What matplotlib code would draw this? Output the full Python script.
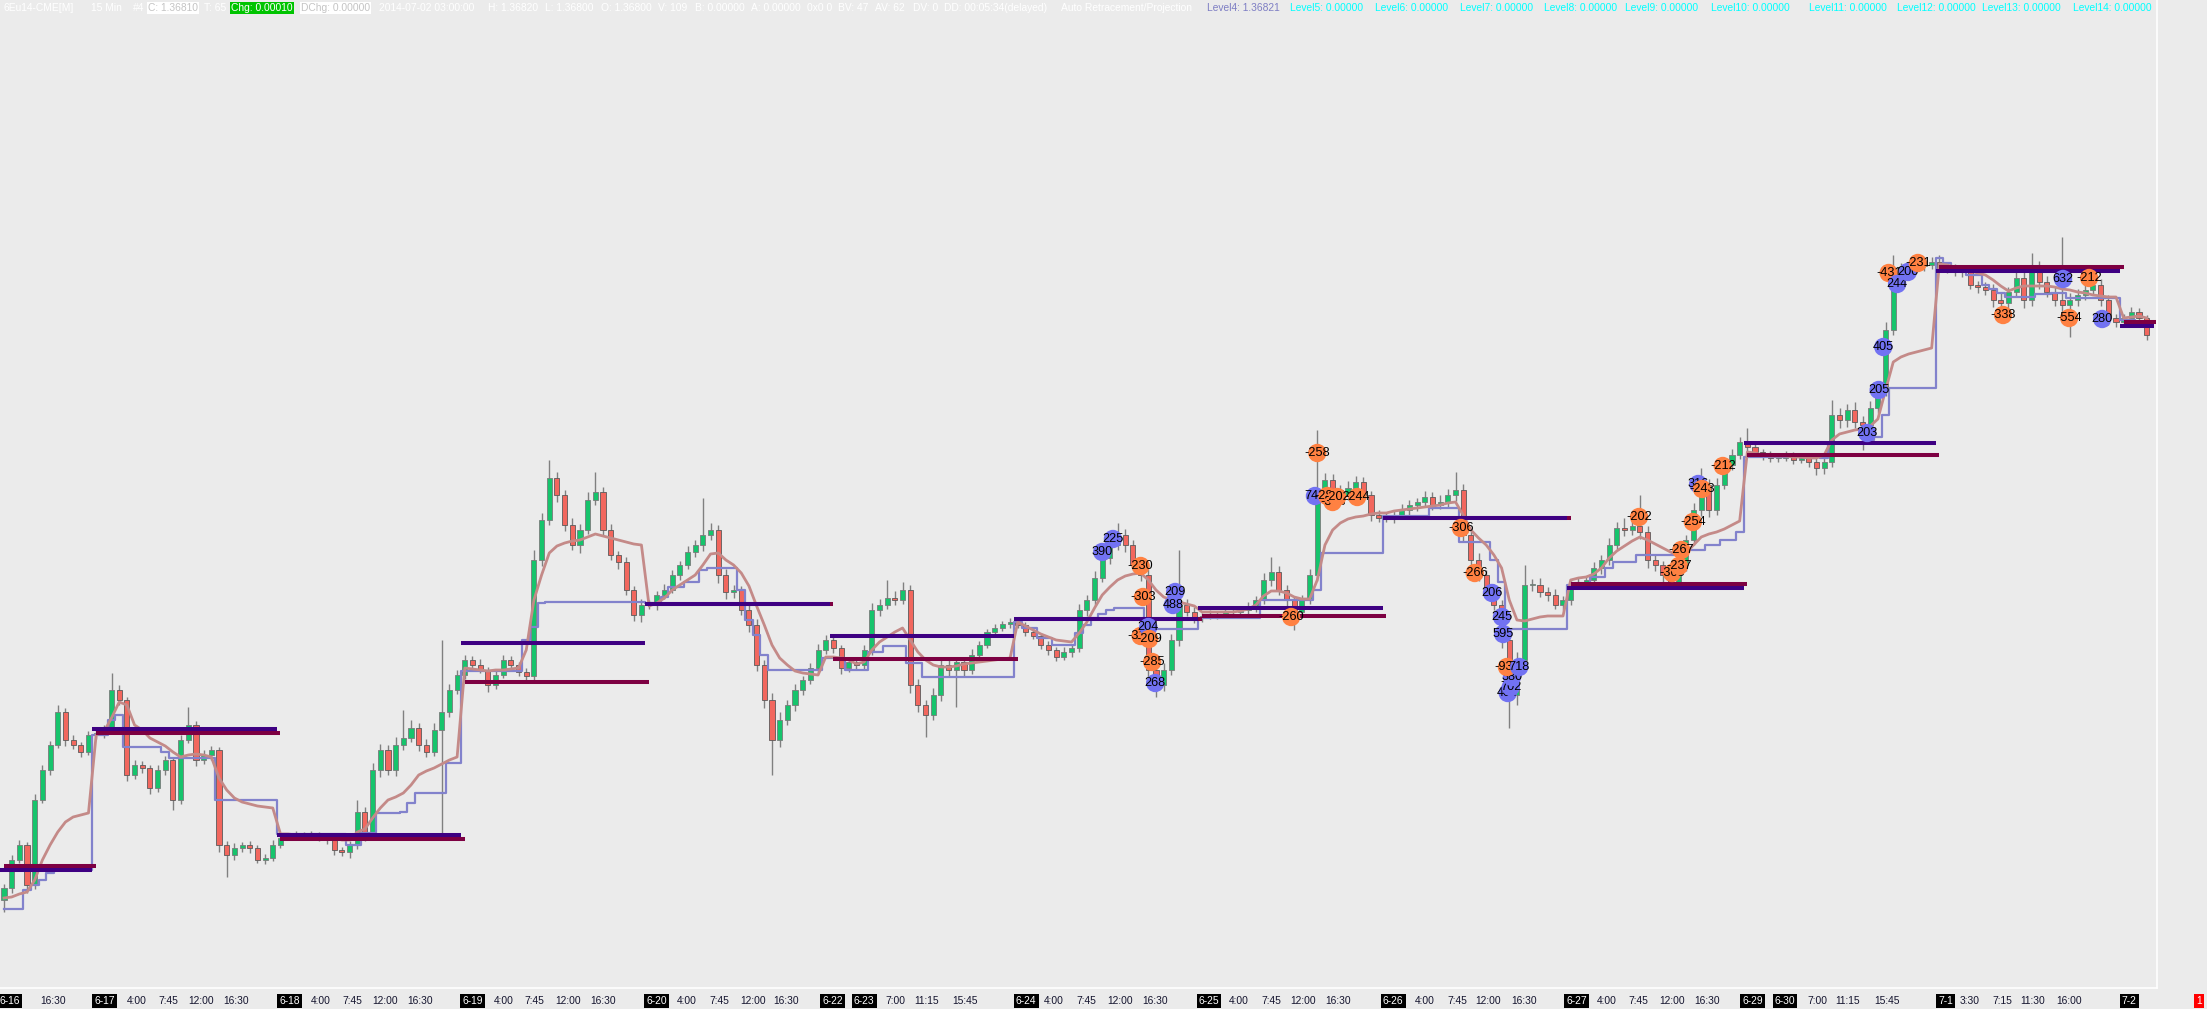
import matplotlib
matplotlib.use("Agg")
import matplotlib.pyplot as plt
from matplotlib import font_manager
from matplotlib.transforms import blended_transform_factory
import numpy as np

# ---------------- data (prices in pipettes, 1.36810 -> 136810) ----------------
open_first = 135680
close = [
    135704, 135760, 135790, 135710, 135880, 135940, 135990, 136056, 136000, 135990, 135976, 136010,  # 6-16
    136014, 136024, 136100, 136080, 135930, 135950, 135944, 135904, 135940, 135960, 135880, 136000,
    136030, 135960, 135970, 135980, 135790, 135770, 135784, 135790, 135784, 135760, 135764, 135790,  # 6-17
    135804, 135810, 135812, 135808, 135812, 135804, 135800, 135780, 135776, 135790, 135856, 135810,
    135940, 135980, 135940, 135990, 136004, 136024, 135990, 135976, 136020, 136056, 136100, 136130,  # 6-18
    136160, 136150, 136140, 136110, 136130, 136160, 136150, 136136, 136128, 136360, 136440, 136524,
    136490, 136430, 136390, 136420, 136480, 136496, 136420, 136370, 136356, 136300, 136250, 136270,  # 6-19
    136270, 136290, 136300, 136330, 136350, 136376, 136390, 136410, 136420, 136330, 136296, 136300,
    136260, 136230, 136150, 136080, 136000, 136040, 136070, 136100, 136120, 136144, 136180,          # 6-20
    136200, 136184, 136144, 136156,                                                                  # 6-22
    136150, 136180, 136260, 136270, 136284, 136280, 136300, 136110, 136070, 136050, 136090, 136150,
    136140, 136156, 136140, 136170, 136190, 136216, 136224, 136232, 136236,                          # 6-23
    136230, 136216, 136208, 136190, 136180, 136166, 136176, 136184, 136260, 136280, 136324, 136364,
    136390, 136410, 136390, 136350, 136330, 136140, 136110, 136140, 136200, 136270, 136256, 136244,  # 6-24
    136248, 136252, 136250, 136256, 136256, 136260, 136266, 136280, 136320, 136336, 136300, 136280,
    136256, 136280, 136330, 136500, 136520, 136500, 136490, 136504, 136516, 136490, 136450, 136444,  # 6-25
    136444, 136450, 136460, 136470, 136476, 136486, 136470, 136476, 136490, 136500, 136410, 136360,
    136330, 136300, 136270, 136200, 136090, 136160, 136310, 136310, 136296, 136290, 136270, 136280,  # 6-26
    136310, 136316, 136320, 136344, 136360, 136390, 136424, 136420, 136428, 136416, 136360, 136350,
    136330, 136316, 136350, 136400, 136460, 136510, 136460, 136510, 136550, 136570, 136596,          # 6-27
    136586, 136576, 136570, 136564,                                                                  # 6-29
    136564, 136570, 136560, 136564, 136556, 136544, 136556, 136650, 136640, 136660, 136636, 136630,
    136664, 136700, 136820, 136944, 136936, 136944, 136948, 136950, 136956,                          # 6-30
    136944, 136944, 136940, 136936, 136910, 136906, 136900, 136880, 136874, 136896, 136924, 136880,
    136944, 136916, 136896, 136880, 136870, 136880, 136890, 136900, 136910, 136880, 136844, 136836,  # 7-1
    136844, 136856, 136844, 136810,                                                                  # 7-2
]
wick_up = [
    8, 10, 10, 6, 12, 10, 8, 14, 8, 10, 6, 8,
    8, 6, 34, 10, 6, 10, 8, 6, 10, 8, 6, 10, 36, 8, 10, 8, 6, 8, 10, 6, 8, 6, 8, 10,
    6, 4, 6, 4, 6, 4, 6, 4, 6, 8, 24, 10, 14, 12, 10, 16, 56, 16, 10, 12, 14, 144, 12, 10,
    10, 8, 12, 6, 8, 10, 8, 6, 8, 20, 14, 36, 12, 10, 14, 12, 16, 40, 10, 12, 8, 10, 8, 12,
    10, 8, 12, 10, 8, 12, 10, 74, 14, 10, 12, 10, 8, 10, 12, 10, 14, 16, 10, 12, 8, 10, 12,
    10, 8, 6, 10,
    8, 10, 14, 12, 36, 14, 16, 10, 12, 10, 14, 12, 10, 8, 10, 12, 8, 6, 8, 6, 8,
    8, 6, 8, 6, 8, 6, 10, 8, 12, 10, 14, 12, 10, 24, 12, 10, 8, 12, 10, 14, 12, 110, 12, 10,
    6, 8, 6, 8, 6, 8, 10, 8, 14, 30, 12, 10, 8, 10, 12, 120, 14, 12, 10, 14, 12, 10, 8, 10,
    10, 8, 12, 10, 8, 12, 10, 14, 12, 36, 12, 10, 14, 10, 12, 10, 14, 16, 40, 12, 14, 10, 12, 8,
    8, 10, 8, 12, 10, 14, 12, 20, 16, 62, 12, 10, 8, 10, 12, 10, 14, 34, 12, 14, 10, 12, 10,
    28, 8, 6, 8,
    6, 8, 6, 8, 6, 8, 10, 30, 14, 12, 16, 12, 14, 12, 16, 26, 10, 8, 10, 8, 10,
    14, 10, 8, 10, 12, 8, 10, 12, 14, 10, 16, 12, 30, 14, 12, 10, 126, 14, 12, 10, 16, 12, 10, 8,
    8, 10, 8, 6,
]
wick_dn = [
    24, 10, 6, 16, 8, 6, 10, 6, 12, 8, 10, 6,
    8, 10, 6, 10, 12, 8, 10, 12, 8, 10, 20, 8, 6, 12, 8, 10, 14, 44, 10, 8, 10, 6, 8, 6,
    6, 4, 6, 4, 6, 6, 8, 10, 8, 12, 8, 12, 10, 14, 10, 12, 10, 8, 12, 10, 8, 220, 10, 8,
    8, 10, 6, 14, 8, 6, 10, 8, 10, 8, 12, 10, 14, 12, 10, 16, 8, 10, 12, 10, 14, 10, 12, 14,
    8, 10, 8, 6, 10, 8, 10, 12, 10, 16, 14, 12, 10, 14, 12, 16, 70, 14, 10, 12, 10, 8, 10,
    8, 10, 12, 8,
    10, 8, 10, 12, 8, 10, 8, 16, 14, 44, 10, 12, 14, 74, 12, 8, 10, 6, 8, 6, 8,
    6, 8, 6, 8, 10, 8, 6, 10, 8, 12, 10, 8, 12, 10, 14, 10, 12, 16, 24, 12, 10, 12, 8, 10,
    8, 6, 8, 6, 8, 6, 8, 10, 8, 12, 10, 14, 36, 10, 8, 12, 10, 12, 14, 10, 12, 10, 12, 8,
    8, 10, 8, 10, 12, 8, 10, 8, 10, 12, 14, 16, 12, 14, 10, 16, 66, 20, 14, 12, 10, 12, 8, 10,
    10, 8, 10, 8, 12, 10, 8, 12, 10, 14, 16, 12, 14, 10, 8, 12, 10, 12, 14, 10, 8, 10, 8,
    8, 6, 10, 8,
    8, 6, 8, 6, 10, 14, 12, 10, 16, 14, 12, 50, 14, 10, 12, 10, 12, 10, 8, 10, 8,
    8, 10, 12, 10, 8, 12, 10, 14, 14, 12, 10, 16, 12, 14, 10, 12, 14, 64, 12, 10, 8, 12, 14, 10,
    10, 8, 12, 10,
]
vwap = [
    135684, 135686, 135692, 135696, 135720, 135760, 135790, 135816, 135836, 135846, 135850, 135854,
    136010, 136016, 136044, 136076, 136070, 136030, 136020, 136004, 135996, 135988, 135976, 135966,
    135970, 135972, 135970, 135966, 135924, 135900, 135884, 135876, 135872, 135868, 135866, 135864,
    135812, 135812, 135810, 135810, 135810, 135808, 135806, 135804, 135800, 135800, 135816, 135822,
    135844, 135864, 135880, 135886, 135894, 135910, 135930, 135938, 135944, 135952, 135960, 135966,
    136144, 136142, 136140, 136138, 136140, 136140, 136142, 136144, 136180, 136280, 136330, 136374,
    136388, 136394, 136398, 136400, 136406, 136412, 136408, 136404, 136400, 136396, 136392, 136390,
    136268, 136274, 136284, 136300, 136310, 136320, 136330, 136350, 136372, 136374, 136360, 136350,
    136334, 136308, 136268, 136230, 136190, 136164, 136150, 136138, 136134, 136132, 136130,
    136166, 136166, 136164, 136160,
    136152, 136156, 136180, 136196, 136206, 136216, 136224, 136200, 136176, 136160, 136150, 136146,
    136146, 136148, 136152, 136154, 136156, 136158, 136160, 136162, 136164,
    136236, 136228, 136220, 136212, 136206, 136200, 136198, 136196, 136214, 136236, 136264, 136290,
    136306, 136320, 136328, 136332, 136334, 136320, 136300, 136286, 136280, 136276, 136272, 136268,
    136256, 136256, 136256, 136256, 136256, 136258, 136262, 136270, 136288, 136298, 136298, 136294,
    136286, 136282, 136282, 136320, 136390, 136420, 136434, 136442, 136446, 136448, 136452, 136454,
    136454, 136458, 136460, 136462, 136464, 136466, 136468, 136470, 136474, 136476, 136450, 136420,
    136404, 136390, 136370, 136344, 136280, 136240, 136238, 136242, 136246, 136248, 136248, 136248,
    136320, 136324, 136326, 136332, 136344, 136364, 136378, 136388, 136398, 136406, 136400, 136392,
    136384, 136376, 136368, 136374, 136390, 136406, 136412, 136416, 136422, 136430, 136438,
    136576, 136574, 136570, 136568,
    136568, 136568, 136566, 136566, 136564, 136564, 136570, 136600, 136612, 136616, 136620, 136622,
    136628, 136642, 136700, 136756, 136766, 136772, 136776, 136780, 136784,
    136952, 136950, 136946, 136942, 136938, 136934, 136930, 136920, 136908, 136898, 136904, 136908,
    136908, 136908, 136908, 136906, 136902, 136900, 136896, 136894, 136890, 136888, 136886, 136886,
    136844, 136846, 136848, 136844,
]
poc = [
    135662, 135662, 135662, 135700, 135710, 135720, 135734, 135740, 135740, 135740, 135740, 135740,
    136010, 136010, 136040, 136050, 135986, 135986, 135986, 135986, 135986, 135976, 135964, 135964,
    135964, 135964, 135964, 135964, 135880, 135880, 135880, 135880, 135880, 135880, 135880, 135880,
    135812, 135812, 135812, 135812, 135812, 135812, 135812, 135812, 135812, 135790, 135790, 135814,
    135814, 135854, 135854, 135854, 135856, 135874, 135894, 135894, 135894, 135894, 135954, 135954,
    136138, 136138, 136138, 136138, 136138, 136138, 136138, 136138, 136200, 136226, 136274, 136276,
    136276, 136276, 136276, 136276, 136276, 136276, 136276, 136276, 136276, 136276, 136276, 136276,
    136274, 136274, 136286, 136306, 136306, 136316, 136316, 136340, 136344, 136344, 136344, 136344,
    136300, 136240, 136210, 136170, 136140, 136140, 136140, 136140, 136140, 136140, 136140,
    136164, 136164, 136164, 136140,
    136140, 136140, 136176, 136176, 136188, 136188, 136188, 136154, 136154, 136126, 136126, 136126,
    136126, 136126, 136126, 136126, 136126, 136126, 136126, 136126, 136126,
    136236, 136224, 136224, 136204, 136204, 136190, 136190, 136190, 136214, 136230, 136244, 136252,
    136260, 136264, 136264, 136264, 136264, 136240, 136222, 136222, 136222, 136222, 136222, 136222,
    136244, 136244, 136244, 136244, 136244, 136244, 136244, 136244, 136280, 136280, 136280, 136280,
    136280, 136280, 136280, 136300, 136374, 136374, 136374, 136374, 136374, 136374, 136374, 136374,
    136448, 136448, 136448, 136448, 136448, 136448, 136464, 136464, 136464, 136464, 136396, 136396,
    136396, 136396, 136360, 136316, 136222, 136222, 136222, 136222, 136222, 136222, 136222, 136222,
    136310, 136310, 136310, 136326, 136326, 136344, 136356, 136356, 136356, 136370, 136370, 136370,
    136370, 136370, 136370, 136380, 136380, 136380, 136390, 136390, 136400, 136400, 136416,
    136566, 136566, 136566, 136566,
    136566, 136566, 136566, 136566, 136566, 136566, 136564, 136594, 136594, 136594, 136594, 136594,
    136600, 136606, 136650, 136704, 136704, 136704, 136704, 136704, 136704,
    136964, 136954, 136944, 136944, 136930, 136930, 136910, 136902, 136894, 136886, 136886, 136886,
    136886, 136892, 136892, 136894, 136894, 136884, 136884, 136884, 136884, 136884, 136884, 136884,
    136840, 136840, 136836, 136836,
]

# daily reference levels (session boundaries in bar units)
seg_start = [-0.5, 11.5, 35.5, 59.5, 83.5, 107.5, 131.5, 155.5, 179.5, 203.5, 226.5, 251.5, 275.5]
seg_end = [11.5, 35.5, 59.5, 83.5, 107.5, 131.5, 155.5, 179.5, 203.5, 226.5, 251.5, 275.5, 280.0]
level_hi = [135740, 136022, 135810, 136194, 136272, 136208, 136242, 136264, 136444, 136304, 136594, 136938, 136828]
level_lo = [135748, 136014, 135802, 136116, 136272, 136162, 136242, 136248, 136444, 136312, 136570, 136946, 136836]

# delta markers: position (bar, price), value
mk_x = [171.0, 170.7, 172.3, 173.0, 173.6, 176.2, 144.4, 143.0, 148.0, 148.3, 152.5, 152.2, 148.0, 149.0,
        149.1, 149.5, 149.9, 167.6, 189.7, 191.5, 193.75, 195.05, 195.2, 195.8, 196.2, 196.35, 195.7, 197.3,
        212.9, 220.6, 221.1, 223.8, 219.9, 218.4, 217.2, 218.1, 242.6, 244.1, 244.7, 245.4, 246.5, 247.9,
        249.2, 260.3, 268.1, 268.9, 271.5, 273.2]
mk_y = [136574, 136488, 136488, 136476, 136486, 136486, 136402, 136376, 136348, 136286, 136296, 136270, 136208, 136226,
        136202, 136156, 136114, 136246, 136424, 136334, 136294, 136246, 136212, 136094, 136106, 136126, 136146, 136146,
        136446, 136512, 136502, 136548, 136436, 136380, 136334, 136348, 136614, 136700, 136786, 136934, 136912, 136936,
        136954, 136850, 136922, 136844, 136924, 136842]
mk_txt = ['-258', '742', '-282', '-303', '-202', '-244', '225', '390', '-230', '-303', '209', '488', '-317', '204',
          '-209', '-285', '268', '-260', '-306', '-266', '206', '245', '595', '404', '702', '380', '-937', '718',
          '-202', '316', '-243', '-212', '-254', '-267', '-363', '-237', '203', '205', '405', '-431', '244', '200',
          '-231', '-338', '632', '-554', '-212', '280']

# x-axis labels (bar units)
date_pos = [0.8, 13.1, 37.2, 61.0, 85.0, 107.9, 112.0, 133.1, 156.9, 180.9, 204.8, 227.7, 231.9, 252.8, 276.7]
date_txt = ['6-16', '6-17', '6-18', '6-19', '6-20', '6-22', '6-23', '6-24', '6-25', '6-26', '6-27', '6-29',
            '6-30', '7-1', '7-2']
time_pos = [6.4, 17.3, 21.4, 25.7, 30.2, 41.3, 45.3, 49.6, 54.2, 65.1, 69.1, 73.4, 78.0, 88.9, 93.2, 97.5, 101.8,
            116.1, 120.1, 125.1, 136.7, 140.9, 145.3, 149.9, 160.8, 165.0, 169.1, 173.7, 185.0, 189.2, 193.2,
            197.9, 208.7, 212.8, 217.2, 221.7, 236.1, 240.1, 245.2, 256.0, 260.2, 264.2, 268.9]
time_txt = ['16:30', '4:00', '7:45', '12:00', '16:30', '4:00', '7:45', '12:00', '16:30', '4:00', '7:45', '12:00',
            '16:30', '4:00', '7:45', '12:00', '16:30', '7:00', '11:15', '15:45', '4:00', '7:45', '12:00', '16:30',
            '4:00', '7:45', '12:00', '16:30', '4:00', '7:45', '12:00', '16:30', '4:00', '7:45', '12:00', '16:30',
            '7:00', '11:15', '15:45', '3:30', '7:15', '11:30', '16:00']

level_names = ['Level4: 1.36821', 'Level5: 0.00000', 'Level6: 0.00000', 'Level7: 0.00000', 'Level8: 0.00000',
               'Level9: 0.00000', 'Level10: 0.00000', 'Level11: 0.00000', 'Level12: 0.00000',
               'Level13: 0.00000', 'Level14: 0.00000']

# ---------------- styling ----------------
BG = '#EBEBEB'
W, H = 2207, 1009
avail = {f.name for f in font_manager.fontManager.ttflist}
if 'Liberation Sans Narrow' in avail:
    HF, HS = ['Liberation Sans Narrow', 'DejaVu Sans'], 9.0
else:
    HF, HS = ['Liberation Sans', 'DejaVu Sans'], 7.4

fig = plt.figure(figsize=(W / 100, H / 100), dpi=100, facecolor=BG)
ax = fig.add_axes([0, 21 / H, 2157 / W, 988 / H])
ax.set_facecolor(BG)

n = min(len(close), len(wick_up), len(wick_dn), len(vwap), len(poc))
x = np.arange(n)
c = np.array(close[:n], float)
o = np.concatenate([[open_first], c[:-1]])
hi = np.maximum(o, c) + np.array(wick_up[:n])
lo = np.minimum(o, c) - np.array(wick_dn[:n])
up = c >= o

ax.vlines(x, lo, hi, color='#808080', lw=1.0, zorder=2)
body_h = np.maximum(np.abs(c - o), 2)
ax.bar(x[up], body_h[up], bottom=np.minimum(o, c)[up], width=0.66, color='#16C46C',
       edgecolor='#7A7A7A', linewidth=0.6, zorder=3)
ax.bar(x[~up], body_h[~up], bottom=np.minimum(o, c)[~up], width=0.66, color='#F2675E',
       edgecolor='#5A5A5A', linewidth=0.6, zorder=3)

ax.step(x, poc[:n], where='mid', color='#8282CC', lw=1.6, zorder=4)
ax.plot(x, vwap[:n], color='#C48A88', lw=2.0, zorder=5, solid_joinstyle='round')

for s, e, a, b in zip(seg_start, seg_end, level_hi, level_lo):
    ax.hlines(b, s + 0.5, min(e + 0.5, 280.2), color='#7D0042', lw=2.9, zorder=6)
    ax.hlines(a, s, e, color='#3E0082', lw=2.9, zorder=7)

for i, (mx, my, t) in enumerate(zip(mk_x, mk_y, mk_txt)):
    col = '#FF8142' if t.startswith('-') else '#7272F2'
    ax.scatter([mx], [my], s=175, color=col, edgecolors='none', zorder=10 + 2 * i)
    ax.text(mx, my, t, ha='center', va='center', fontsize=9.2, color='black',
            family=['Liberation Sans', 'DejaVu Sans'], zorder=11 + 2 * i)

ax.set_xlim(-0.52, 280.34)
ax.set_ylim(135504, 137480)
ax.set_xticks([])
ax.set_yticks([])
for side in ['left', 'top']:
    ax.spines[side].set_visible(False)
for side in ['right', 'bottom']:
    ax.spines[side].set_color('white')
    ax.spines[side].set_linewidth(1.2)

# ---------------- x labels ----------------
tr = blended_transform_factory(ax.transData, fig.transFigure)
ly = 1 - 1001 / H
for p, t in zip(time_pos, time_txt):
    ax.text(p, ly, t, transform=tr, ha='center', va='center', fontsize=HS, color='#14142E', family=HF,
            clip_on=False)
for p, t in zip(date_pos, date_txt):
    ax.text(p, ly, t, transform=tr, ha='center', va='center', fontsize=HS, color='white', family=HF,
            clip_on=False, bbox=dict(boxstyle='square,pad=0.2', fc='black', ec='none'))
fig.text(2199 / W, ly, '1', ha='center', va='center', fontsize=HS, color='white', family=HF,
         bbox=dict(boxstyle='square,pad=0.22', fc='#FF0000', ec='none'))

# ---------------- header ----------------
hy = 1 - 8 / H


def htext(px, s, color='white', box=None):
    kw = dict(ha='left', va='center', fontsize=HS, color=color, family=HF)
    if box:
        kw['bbox'] = dict(boxstyle='square,pad=0.1', fc=box, ec='none')
    fig.text(px / W, hy, s, **kw)


htext(4, '6Eu14-CME[M]')
htext(91, '15 Min')
htext(133, '#4')
htext(148, 'C: 1.36810', color='#C4C4C4', box='white')
htext(204, 'T: 65')
htext(231, 'Chg: 0.00010', color='white', box='#00C400')
htext(301, 'DChg: 0.00000', color='#C4C4C4', box='white')
htext(379, '2014-07-02 03:00:00')
htext(488, 'H: 1.36820')
htext(545, 'L: 1.36800')
htext(601, 'O: 1.36800')
htext(658, 'V: 109')
htext(695, 'B: 0.00000')
htext(751, 'A: 0.00000')
htext(807, '0x0 0')
htext(838, 'BV: 47')
htext(875, 'AV: 62')
htext(913, 'DV: 0')
htext(944, 'DD: 00:05:34(delayed)')
htext(1061, 'Auto Retracement/Projection')
level_px = [1207, 1290, 1375, 1460, 1544, 1625, 1711, 1809, 1897, 1982, 2073]
for k, (px, s) in enumerate(zip(level_px, level_names)):
    htext(px, s, color='#7E7EC4' if k == 0 else '#00FFFF')

fig.savefig('out.png', dpi=100, facecolor=BG)
